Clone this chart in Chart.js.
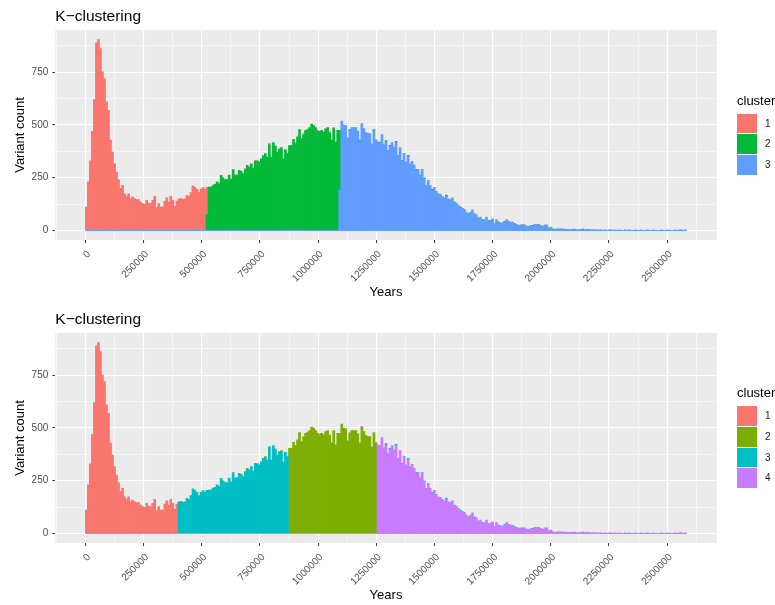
<!DOCTYPE html>
<html>
<head>
<meta charset="utf-8">
<script src="https://cdn.jsdelivr.net/npm/chart.js@4.4.1/dist/chart.umd.min.js"></script>
<style>
  html, body { margin: 0; padding: 0; background: #ffffff; }
  body { width: 775px; height: 605px; position: relative; overflow: hidden;
         font-family: "Liberation Sans", Arial, sans-serif; }
  .panel { position: absolute; left: 0; width: 775px; height: 302px; }
  .panel canvas { position: absolute; left: 0; top: 0; }
  .legend { position: absolute; left: 737px; width: 38px; }
  .legend .ttl { position: absolute; left: 0; top: 0; font-size: 13px; line-height: 13px;
                 color: #000; white-space: nowrap; }
  .legend .key { position: absolute; left: 0; width: 20px; height: 19.7px; }
  .legend .lab { position: absolute; left: 28px; font-size: 10px; line-height: 19.7px; color: #1a1a1a; }
</style>
</head>
<body>
<div class="panel" style="top:0px"><canvas id="chartA" width="775" height="302"></canvas></div>
<div class="panel" style="top:303px"><canvas id="chartB" width="775" height="302"></canvas></div>
<script>
// Histogram of variant ages: 299 bins of 8640 years, starting at 0.
const binWidth = 8640;
const binCounts = [
  111, 230, 330, 470, 620, 890, 905, 862, 752, 720,
  610, 570, 428, 372, 317, 277, 240, 200, 214, 174,
  163, 174, 150, 158, 150, 146, 146, 135, 127, 124,
  143, 130, 127, 143, 162, 108, 127, 111, 112, 139,
  155, 135, 162, 143, 114, 139, 150, 152, 148, 150,
  166, 162, 180, 212, 205, 195, 180, 196, 203, 196,
  205, 206, 206, 215, 219, 230, 225, 261, 250, 241,
  241, 263, 245, 288, 263, 265, 285, 280, 270, 293,
  309, 300, 317, 296, 333, 330, 325, 340, 356, 364,
  348, 412, 348, 417, 400, 372, 388, 393, 340, 385,
  364, 404, 404, 432, 416, 444, 478, 436, 458, 475,
  480, 488, 504, 499, 488, 475, 470, 475, 467, 483,
  488, 467, 430, 488, 420, 475, 475, 518, 499, 496,
  439, 478, 488, 488, 488, 472, 428, 507, 483, 464,
  459, 459, 409, 478, 431, 420, 418, 455, 407, 426,
  380, 404, 417, 395, 423, 356, 393, 333, 366, 325,
  356, 317, 328, 310, 290, 290, 265, 290, 250, 214,
  238, 214, 195, 205, 185, 174, 170, 162, 155, 168,
  150, 147, 155, 135, 130, 120, 111, 105, 100, 87,
  79, 87, 98, 79, 74, 60, 63, 51, 51, 63,
  48, 48, 55, 35, 51, 40, 36, 36, 43, 51,
  44, 40, 40, 32, 29, 24, 27, 27, 27, 21,
  19, 24, 24, 29, 29, 29, 24, 19, 27, 27,
  13, 16, 8, 5, 8, 8, 8, 8, 5, 6,
  5, 4, 6, 5, 3, 4, 5, 6, 3, 4,
  5, 3, 4, 3, 2, 1, 1, 0, 1, 0,
  1, 1, 0, 1, 0, 1, 0, 0, 1, 0,
  1, 0, 0, 1, 0, 0, 1, 0, 0, 1,
  0, 0, 1, 0, 0, 0, 1, 0, 0, 1,
  0, 0, 0, 1, 0, 1, 1, 0, 1
];

// Tick values
const yearTicks = [0, 250000, 500000, 750000, 1000000, 1250000, 1500000, 1750000, 2000000, 2250000, 2500000];
const countTicks = [0, 250, 500, 750];

// Three-cluster solution
const clusterLabelsA = ['1', '2', '3'];
const regionClustersA = ['1', '2', '3'];        // cluster owning each stretch of years
const regionStartsA = [60, 126];                // first bin of the 2nd and 3rd stretch
const boundarySplitsA = [[60, 76], [126, 190]]; // [bin, count of the later stretch's cluster]
const overlapTipsA = [                          // [bin, count of the next cluster up]
  [63, 5], [66, 5], [72, 4], [75, 5], [79, 5], [82, 4], [84, 5], [88, 4], [91, 6], [96, 4],
  [99, 5], [101, 5], [104, 4], [108, 6], [110, 4], [113, 5], [115, 6], [119, 4], [121, 5], [123, 5],
  [129, 5], [131, 6], [136, 4], [140, 5], [143, 5], [146, 4], [149, 6], [151, 5], [154, 5], [157, 4],
  [160, 5], [164, 5], [168, 4], [172, 6], [176, 4], [179, 5], [183, 4], [186, 6], [190, 5], [193, 4],
  [197, 5], [201, 4], [205, 5], [208, 4], [213, 4], [217, 5], [222, 4], [227, 4], [232, 3], [243, 3],
  [247, 3], [249, 3]
];

// Four-cluster solution
const clusterLabelsB = ['1', '2', '3', '4'];
const regionClustersB = ['1', '3', '2', '4'];
const regionStartsB = [46, 101, 145];
const boundarySplitsB = [];
const overlapTipsB = [
  [48, 4], [57, 5], [63, 4], [68, 5], [72, 4], [77, 6], [80, 5], [84, 4], [89, 5], [94, 4], [97, 5],
  [105, 5], [110, 4], [116, 5], [121, 4], [126, 5], [131, 4], [137, 5],
  [149, 6], [151, 5], [154, 5], [157, 4], [160, 5], [164, 5], [168, 4], [172, 6], [176, 4], [179, 5],
  [183, 4], [186, 6], [190, 5], [193, 4], [197, 5], [201, 4], [205, 5], [208, 4], [213, 4], [217, 5],
  [222, 4], [227, 4], [232, 3], [243, 3], [247, 3], [249, 3]
];

const palette3 = ['#F8766D', '#00BA38', '#619CFF'];
const palette4 = ['#F8766D', '#7CAE00', '#00BFC4', '#C77CFF'];

Chart.defaults.font.family = '"Liberation Sans", Arial, sans-serif';

function regionOf(bin, starts) {
  let r = 0;
  while (r < starts.length && bin >= starts[r]) r++;
  return r;
}

// Per-cluster counts for every bin
function splitByCluster(labels, regionClusters, starts, splits, tips) {
  const idx = regionClusters.map(l => labels.indexOf(l));
  const out = labels.map(() => binCounts.map(() => 0));
  binCounts.forEach((n, i) => { out[idx[regionOf(i, starts)]][i] = n; });
  splits.forEach(([bin, lower]) => {
    const r = regionOf(bin, starts);
    out[idx[r]][bin] = lower;
    out[idx[r - 1]][bin] = binCounts[bin] - lower;
  });
  tips.forEach(([bin, n]) => {
    const c = idx[regionOf(bin, starts)];
    if (c > 0) { out[c][bin] -= n; out[c - 1][bin] += n; }
  });
  return out;
}

// Major ticks plus the minor lines half-way between them, limited to [lo, hi]
function gridValues(majors, lo, hi) {
  const half = (majors[1] - majors[0]) / 2;
  const vals = [];
  for (let v = majors[0] - 4 * half; v <= hi; v += half) {
    if (v >= lo) vals.push(v);
  }
  return vals;
}

// Grey panel behind the grid
const panelBackground = {
  id: 'panelBackground',
  beforeDraw(chart) {
    const { ctx, chartArea: a } = chart;
    ctx.save();
    ctx.fillStyle = '#EBEBEB';
    ctx.fillRect(a.left, a.top, a.right - a.left, a.bottom - a.top);
    ctx.restore();
  }
};

function drawHistogram(canvasId, labels, colors, regionClusters, starts, splits, tips) {
  const counts = splitByCluster(labels, regionClusters, starts, splits, tips);
  const span = binCounts.length * binWidth;
  const yTop = Math.max(...binCounts);
  const xMin = -0.05 * span, xMax = 1.05 * span;
  const yMin = -0.05 * yTop, yMax = 1.05 * yTop;
  const xGrid = gridValues(yearTicks, xMin, xMax);
  const yGrid = gridValues(countTicks, yMin, yMax);

  const datasets = [];
  // higher-numbered clusters sit at the bottom of each stack
  for (let c = counts.length - 1; c >= 0; c--) {
    const pts = [];
    counts[c].forEach((n, i) => { if (n > 0) pts.push({ x: (i + 0.5) * binWidth, y: n }); });
    datasets.push({
      type: 'bar',
      label: labels[c],
      data: pts,
      backgroundColor: colors[c],
      borderWidth: 0,
      barPercentage: 1,
      categoryPercentage: 1
    });
  }
  // zero-height baseline of the last cluster across the whole range
  datasets.push({
    type: 'line',
    label: '',
    data: [{ x: 0, y: 0 }, { x: span, y: 0 }],
    borderColor: colors[colors.length - 1],
    borderWidth: 1,
    pointRadius: 0,
    stack: 'baseline',
    order: -1
  });

  const majorX = ctx => ctx.tick && yearTicks.includes(ctx.tick.value);
  const majorY = ctx => ctx.tick && countTicks.includes(ctx.tick.value);

  new Chart(document.getElementById(canvasId), {
    type: 'bar',
    data: { datasets },
    plugins: [panelBackground],
    options: {
      responsive: false,
      animation: false,
      devicePixelRatio: 1,
      layout: { padding: { left: 0, right: 58.3, top: 0, bottom: 0 } },
      plugins: {
        legend: { display: false },
        tooltip: { enabled: false },
        title: {
          display: true,
          text: 'K\u2212clustering',
          align: 'start',
          fullSize: false,
          color: '#000000',
          font: { size: 15.5, weight: 'normal' },
          padding: { top: 7, bottom: 4.4 }
        }
      },
      scales: {
        x: {
          type: 'linear',
          stacked: true,
          offset: false,
          min: xMin,
          max: xMax,
          border: { display: false },
          grid: {
            offset: false,
            color: '#FFFFFF',
            lineWidth: ctx => majorX(ctx) ? 1.1 : 0.55,
            drawTicks: true,
            tickLength: 3,
            tickWidth: 1,
            tickColor: ctx => majorX(ctx) ? '#333333' : 'rgba(0,0,0,0)'
          },
          afterBuildTicks: s => { s.ticks = xGrid.map(v => ({ value: v })); },
          ticks: {
            autoSkip: false,
            minRotation: 45,
            maxRotation: 45,
            padding: 5.5,
            labelOffset: 3.5,
            color: '#4D4D4D',
            font: { size: 10 },
            callback: v => (yearTicks.includes(v) ? String(v) : '')
          },
          title: {
            display: true,
            text: 'Years',
            color: '#000000',
            font: { size: 13 },
            padding: { top: 0, bottom: 2 }
          },
          afterFit: s => { s.height = 62; }
        },
        y: {
          type: 'linear',
          stacked: true,
          min: yMin,
          max: yMax,
          border: { display: false },
          grid: {
            color: '#FFFFFF',
            lineWidth: ctx => majorY(ctx) ? 1.1 : 0.55,
            drawTicks: true,
            tickLength: 3,
            tickWidth: 1,
            tickColor: ctx => majorY(ctx) ? '#333333' : 'rgba(0,0,0,0)'
          },
          afterBuildTicks: s => { s.ticks = yGrid.map(v => ({ value: v })); },
          ticks: {
            autoSkip: false,
            padding: 4,
            color: '#4D4D4D',
            font: { size: 10 },
            callback: v => (countTicks.includes(v) ? String(v) : '')
          },
          title: {
            display: true,
            text: 'Variant count',
            color: '#000000',
            font: { size: 13 },
            padding: { top: 13, bottom: 0 }
          },
          afterFit: s => { s.width = 55.3; }
        }
      }
    }
  });

  // ggplot-style legend to the right of the panel
  const panel = document.getElementById(canvasId).parentNode;
  const legend = document.createElement('div');
  legend.className = 'legend';
  const step = 20.7;
  const groupHeight = 20 + labels.length * step;
  legend.style.top = (134.6 - groupHeight / 2) + 'px';
  const ttl = document.createElement('div');
  ttl.className = 'ttl';
  ttl.textContent = 'cluster';
  legend.appendChild(ttl);
  labels.forEach((lab, i) => {
    const key = document.createElement('div');
    key.className = 'key';
    key.style.top = (20 + i * step) + 'px';
    key.style.background = colors[i];
    legend.appendChild(key);
    const txt = document.createElement('div');
    txt.className = 'lab';
    txt.style.top = (20 + i * step) + 'px';
    txt.textContent = lab;
    legend.appendChild(txt);
  });
  panel.appendChild(legend);
}

drawHistogram('chartA', clusterLabelsA, palette3, regionClustersA, regionStartsA, boundarySplitsA, overlapTipsA);
drawHistogram('chartB', clusterLabelsB, palette4, regionClustersB, regionStartsB, boundarySplitsB, overlapTipsB);
</script>
</body>
</html>
